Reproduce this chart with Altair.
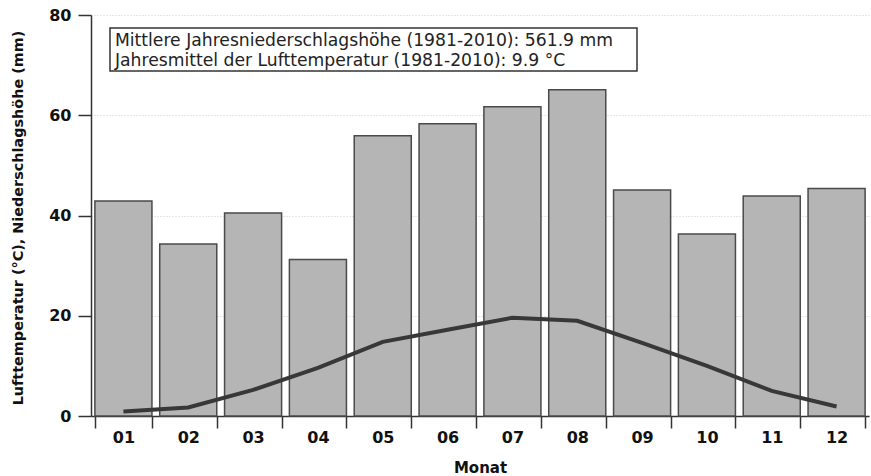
import altair as alt
import pandas as pd

months = ["01", "02", "03", "04", "05", "06", "07", "08", "09", "10", "11", "12"]
precip = [42.9, 34.3, 40.5, 31.2, 55.9, 58.3, 61.7, 65.1, 45.1, 36.3, 43.9, 45.4]
temp = [0.9, 1.7, 5.2, 9.6, 14.8, 17.2, 19.6, 19.0, 14.6, 10.0, 5.0, 1.9]
info_lines = [
    "Mittlere Jahresniederschlagshöhe (1981-2010): 561.9 mm",
    "Jahresmittel der Lufttemperatur (1981-2010): 9.9 °C",
]
info_rows = [30.5, 51.0]

df = pd.DataFrame({"Monat": months, "N": precip, "T": temp})

FONT = "DejaVu Sans"
W, H = 778, 401

xenc = alt.X(
    "Monat:N",
    sort=months,
    scale=alt.Scale(paddingInner=0.12, paddingOuter=0.06),
    axis=alt.Axis(
        title="Monat",
        labelAngle=0,
        tickBand="extent",
        tickSize=12,
        tickWidth=1.5,
        tickColor="#333",
        domainColor="#333",
        domainWidth=1.5,
        labelFont=FONT,
        labelFontSize=16,
        labelFontWeight="bold",
        labelColor="#111",
        labelPadding=1,
        titleFont=FONT,
        titleFontSize=15,
        titleFontWeight="bold",
        titleColor="#111",
        titleY=51,
        titleBaseline="middle",
        grid=False,
    ),
)

yscale = alt.Scale(domain=[0, 80], nice=False)
yaxis = alt.Axis(
    title="Lufttemperatur (°C), Niederschlagshöhe (mm)",
    values=[0, 20, 40, 60, 80],
    tickSize=13,
    tickWidth=1.5,
    tickColor="#333",
    domainColor="#333",
    domainWidth=1.5,
    labelFont=FONT,
    labelFontSize=16,
    labelFontWeight="bold",
    labelColor="#111",
    labelPadding=7,
    titleFont=FONT,
    titleFontSize=14.4,
    titleFontWeight="bold",
    titleColor="#111",
    titleX=-73,
    titleY=H / 2 + 2,
    titleBaseline="middle",
    grid=True,
    gridColor="#cccccc",
    gridDash=[1, 2],
    gridWidth=1,
)

bars = alt.Chart(df).mark_bar(
    color="#b5b5b5", stroke="#4a4a4a", strokeWidth=1.5
).encode(
    x=xenc,
    y=alt.Y("N:Q", scale=yscale, axis=yaxis),
)

line = alt.Chart(df).mark_line(color="#383838", strokeWidth=4).encode(
    x=alt.X("Monat:N", sort=months),
    y=alt.Y("T:Q", scale=yscale),
)

box = alt.Chart(pd.DataFrame({"a": [0]})).mark_rect(
    fill="white", stroke="#333", strokeWidth=1.5
).encode(
    x=alt.value(19), x2=alt.value(546), y=alt.value(13), y2=alt.value(56)
)

txt_df = pd.DataFrame({"line": info_lines, "yy": info_rows})
txt = alt.Chart(txt_df).mark_text(
    align="left", baseline="alphabetic", font=FONT, fontSize=17.2, color="#222"
).encode(
    x=alt.value(24), y=alt.Y("yy:Q", scale=None, axis=None), text="line:N"
)

chart = alt.layer(bars, line, box, txt).properties(
    width=W,
    height=H,
    autosize=alt.AutoSizeParams(type="none"),
    padding={"left": 91, "top": 15, "right": 2, "bottom": 60},
    background="white",
).configure_view(stroke=None)

chart.save("out.html", embed_options={"renderer": "svg", "actions": False})
